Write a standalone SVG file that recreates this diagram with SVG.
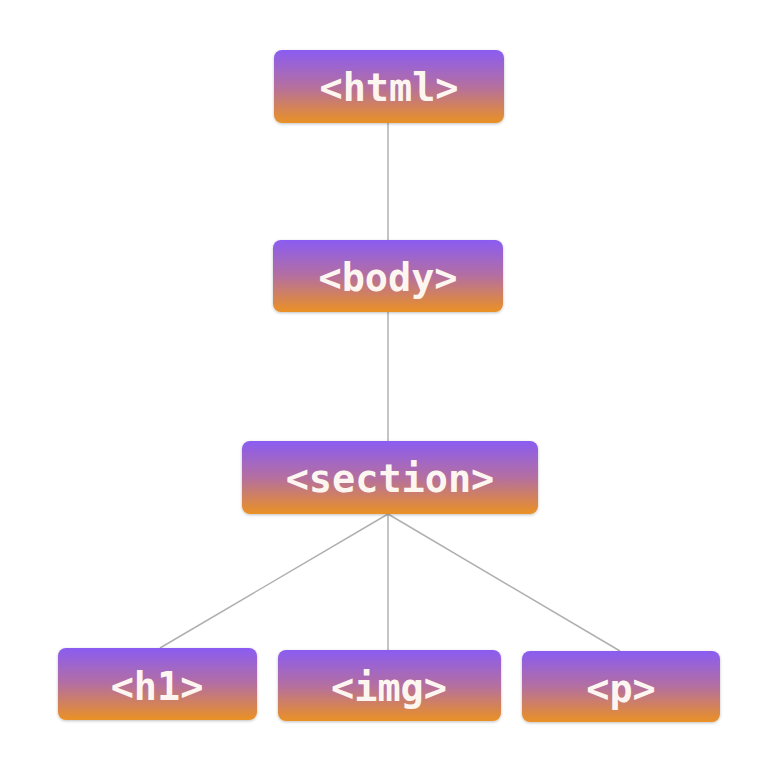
<svg xmlns="http://www.w3.org/2000/svg" width="766" height="762" viewBox="0 0 766 762">
<defs>
<linearGradient id="g" x1="0" y1="0" x2="0" y2="1">
<stop offset="0" stop-color="#8a5cf2"/>
<stop offset="0.5" stop-color="#b46fa0"/>
<stop offset="1" stop-color="#ea9124"/>
</linearGradient>
<filter id="sh" x="-10%" y="-10%" width="120%" height="130%">
<feGaussianBlur in="SourceAlpha" stdDeviation="1.5"/>
<feOffset dy="1"/>
<feComponentTransfer><feFuncA type="linear" slope="0.25"/></feComponentTransfer>
<feMerge><feMergeNode/><feMergeNode in="SourceGraphic"/></feMerge>
</filter>
</defs>
<style>
.box{fill:url(#g);filter:url(#sh)}
.lbl{font-family:"DejaVu Sans Mono",monospace;font-size:38.5px;font-weight:bold;fill:#fdf6f0;text-anchor:middle;dominant-baseline:central}
.edge{stroke:#b0b0b0;stroke-width:1.5;fill:none}
</style>
<rect width="766" height="762" fill="#ffffff"/>
<g id="connectors">
<line class="edge" x1="388" y1="123" x2="388" y2="240"/>
<line class="edge" x1="388" y1="312" x2="388" y2="441"/>
<line class="edge" x1="388" y1="514" x2="160" y2="648"/>
<line class="edge" x1="388" y1="514" x2="388" y2="650"/>
<line class="edge" x1="388" y1="514" x2="620" y2="651"/>
</g>
<g id="html"><rect class="box" x="274" y="50" width="230" height="73" rx="8"/><text class="lbl" x="389" y="87">&lt;html&gt;</text></g>
<g id="body"><rect class="box" x="273" y="240" width="230" height="72" rx="8"/><text class="lbl" x="388" y="277">&lt;body&gt;</text></g>
<g id="section"><rect class="box" x="242" y="441" width="296" height="73" rx="8"/><text class="lbl" x="390" y="478">&lt;section&gt;</text></g>
<g id="h1"><rect class="box" x="58" y="648" width="199" height="72" rx="8"/><text class="lbl" x="157" y="686">&lt;h1&gt;</text></g>
<g id="img"><rect class="box" x="278" y="650" width="223" height="71" rx="8"/><text class="lbl" x="389" y="687">&lt;img&gt;</text></g>
<g id="p"><rect class="box" x="522" y="651" width="198" height="71" rx="8"/><text class="lbl" x="621" y="688">&lt;p&gt;</text></g>
</svg>
